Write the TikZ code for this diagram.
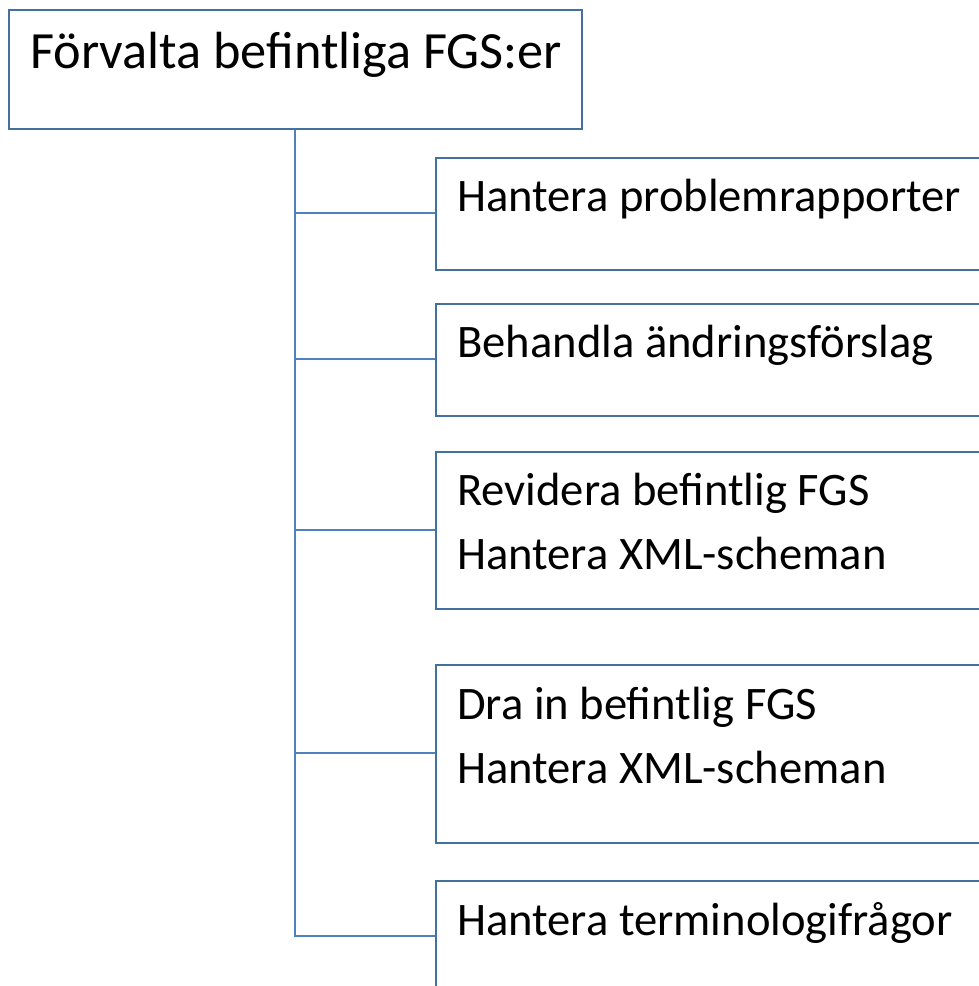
\documentclass[tikz,border=0pt]{standalone}
\usepackage{fontspec}
\setmainfont{Carlito}
\definecolor{boxline}{HTML}{41719C}
\definecolor{conn}{HTML}{4F81BD}
\tikzset{
  box/.style={draw=boxline, line width=1.8pt, fill=white, rectangle, anchor=north west, inner sep=0pt},
  lbl/.style={anchor=base west, inner sep=0pt, font=\fontsize{46.6}{65}\selectfont},
  toplbl/.style={anchor=base west, inner sep=0pt, font=\fontsize{52.3}{64}\selectfont},
  link/.style={draw=conn, line width=1.8pt},
}
\begin{document}
\begin{tikzpicture}[x=1pt,y=-1pt]
\useasboundingbox (0,0) rectangle (979,986);
\clip (0,0) rectangle (979,986);
\node[box, minimum width=573pt, minimum height=119pt] (root) at (8,9) {};
\node[toplbl] (roott) at (30,68) {Förvalta befintliga FGS:er};
\coordinate (trunk) at (295,128);
\coordinate (b1) at (295,213);
\coordinate (b2) at (295,359);
\coordinate (b3) at (295,530);
\coordinate (b4) at (295,753);
\coordinate (b5) at (295,936);
\node[box, minimum width=600pt, minimum height=112pt] (c1) at (435,157) {};
\node[box, minimum width=600pt, minimum height=112pt] (c2) at (435,303) {};
\node[box, minimum width=600pt, minimum height=157pt] (c3) at (435,451) {};
\node[box, minimum width=600pt, minimum height=178pt] (c4) at (435,664) {};
\node[box, minimum width=600pt, minimum height=140pt] (c5) at (435,880) {};
\node[lbl] (t1) at (457,211) {Hantera problemrapporter};
\node[lbl] (t2) at (457,357) {Behandla ändringsförslag};
\node[lbl] (t3a) at (457,505) {Revidera befintlig FGS};
\node[lbl] (t3b) at (457,569) {Hantera XML-scheman};
\node[lbl] (t4a) at (457,719) {Dra in befintlig FGS};
\node[lbl] (t4b) at (457,783) {Hantera XML-scheman};
\node[lbl] (t5) at (457,935) {Hantera terminologifrågor};
\draw[link] (root.south -| trunk) -- (b5) -- (b5 -| c5.west);
\draw[link] (b1) -- (b1 -| c1.west);
\draw[link] (b2) -- (b2 -| c2.west);
\draw[link] (b3) -- (b3 -| c3.west);
\draw[link] (b4) -- (b4 -| c4.west);
\end{tikzpicture}
\end{document}
